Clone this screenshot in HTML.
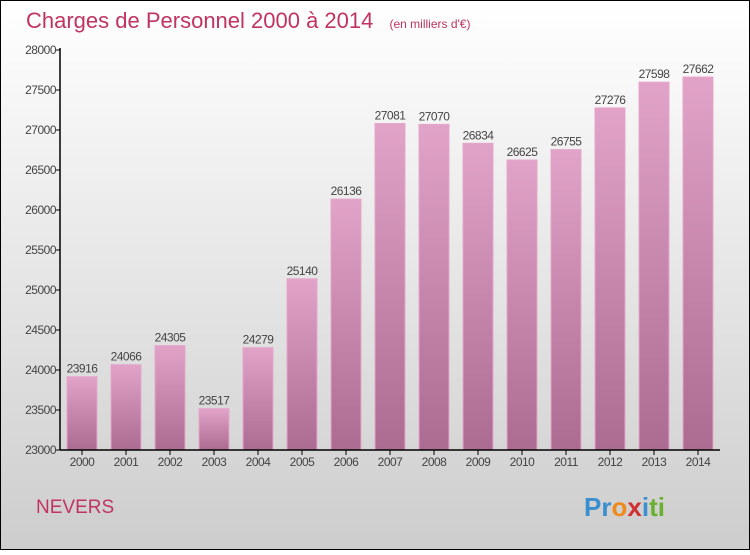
<!DOCTYPE html>
<html><head><meta charset="utf-8"><style>
body{margin:0}
#c{width:750px;height:550px;position:relative;font-family:"Liberation Sans",sans-serif}
</style></head><body>
<div id="c">
<svg id="s" width="750" height="550">
<defs>
<linearGradient id="bg" x1="0" y1="0" x2="0" y2="1"><stop offset="0" stop-color="#ffffff"/><stop offset="1" stop-color="#cdcdcd"/></linearGradient>
<linearGradient id="bar" x1="0" y1="0" x2="0" y2="1"><stop offset="0" stop-color="#e2a3c8"/><stop offset="1" stop-color="#ac6b91"/></linearGradient>
</defs>
<rect x="0.5" y="0.5" width="749" height="549" fill="url(#bg)" stroke="#000"/>
<text x="26" y="28" font-size="22" fill="#c0345f">Charges de Personnel 2000 à 2014 <tspan font-size="12" dx="10">(en milliers d'€)</tspan></text>
<text x="36" y="513" font-size="19" fill="#c0345f">NEVERS</text>
<text x="584" y="516" font-size="26" font-weight="bold"><tspan fill="#3a8fd0">Pr</tspan><tspan fill="#f08a1c">o</tspan><tspan fill="#d03030">x</tspan><tspan fill="#3a8fd0">i</tspan><tspan fill="#6ab030">ti</tspan></text>
<g id="g"></g>
</svg>
</div>
<script>
const years=["2000","2001","2002","2003","2004","2005","2006","2007","2008","2009","2010","2011","2012","2013","2014"];
const values=[23916,24066,24305,23517,24279,25140,26136,27081,27070,26834,26625,26755,27276,27598,27662];
const yTicks=[23000,23500,24000,24500,25000,25500,26000,26500,27000,27500,28000];
const NS="http://www.w3.org/2000/svg";
const g=document.getElementById('g');
const x0=60,band=44,yMin=23000,yMax=28000,yTop=50,yBot=450;
const y=v=>yBot-(v-yMin)/(yMax-yMin)*(yBot-yTop);
const xc=i=>x0+band*i+band/2;
function mk(t,a){const e=document.createElementNS(NS,t);for(const k in a)e.setAttribute(k,a[k]);g.appendChild(e);return e;}
values.forEach((v,i)=>{
 const r=mk('rect',{x:xc(i)-15,y:y(v),width:30,height:yBot-y(v),fill:'url(#bar)',stroke:'#e6a6cc','stroke-width':1});
 
 
 const t=mk('text',{x:xc(i),y:y(v)-4,'text-anchor':'middle','font-size':12,fill:'#444','letter-spacing':'-0.5'});
 t.textContent=v;
 
 
 const tk=mk('line',{x1:xc(i),x2:xc(i),y1:yBot,y2:yBot+5,stroke:'#000'});
 
 
 const l=mk('text',{x:xc(i),y:yBot+16,'text-anchor':'middle','font-size':12,fill:'#444','letter-spacing':'-0.5'});
 l.textContent=years[i];
 
 
});
yTicks.forEach(v=>{
 const tk=mk('line',{x1:x0-5,x2:x0,y1:y(v),y2:y(v),stroke:'#000'});
 
 
 const l=mk('text',{x:x0-4,y:y(v)+4,'text-anchor':'end','font-size':12,fill:'#444','letter-spacing':'-0.5'});
 l.textContent=v;
 
 
});
const ya=mk('line',{x1:x0,x2:x0,y1:yTop-2,y2:yBot,stroke:'#000','stroke-width':1.5});


const xa=mk('line',{x1:x0,x2:x0+band*years.length,y1:yBot,y2:yBot,stroke:'#000','stroke-width':1.5});


</script>
</body></html>
